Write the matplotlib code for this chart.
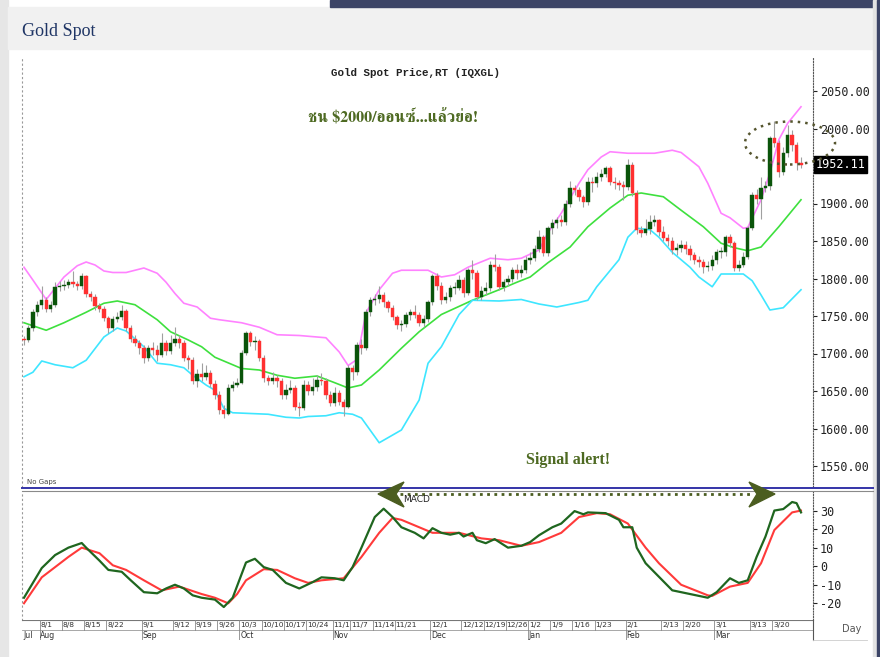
import matplotlib
matplotlib.use("Agg")
import matplotlib.pyplot as plt
from matplotlib.patches import Rectangle, Ellipse, Polygon
from matplotlib.lines import Line2D
from matplotlib import font_manager
from matplotlib.ft2font import FT2Font

# ---------------- data ----------------
opens = [1720, 1718, 1734, 1755, 1765, 1771, 1760, 1765, 1789, 1790, 1792, 1795, 1793, 1790, 1803, 1779,
         1776, 1763, 1760, 1747, 1734, 1746, 1749, 1757, 1734, 1720, 1714, 1707, 1694, 1707, 1705, 1698,
         1714, 1703, 1714, 1720, 1714, 1694, 1691, 1664, 1673, 1669, 1674, 1660, 1645, 1625, 1620, 1654,
         1658, 1661, 1701, 1727, 1715, 1717, 1694, 1667, 1664, 1668, 1664, 1645, 1651, 1654, 1629, 1628,
         1658, 1650, 1655, 1665, 1664, 1645, 1634, 1648, 1636, 1629, 1681, 1676, 1711, 1707, 1755, 1771,
         1773, 1778, 1769, 1761, 1749, 1738, 1740, 1751, 1755, 1752, 1741, 1746, 1769, 1803, 1790, 1771,
         1775, 1787, 1788, 1798, 1781, 1811, 1808, 1776, 1784, 1787, 1818, 1816, 1789, 1795, 1799, 1811,
         1807, 1812, 1825, 1827, 1840, 1855, 1834, 1867, 1874, 1878, 1876, 1900, 1921, 1918, 1909, 1902,
         1929, 1927, 1935, 1940, 1947, 1929, 1927, 1925, 1922, 1951, 1914, 1865, 1861, 1866, 1875, 1878,
         1862, 1854, 1850, 1838, 1841, 1845, 1840, 1831, 1825, 1822, 1815, 1817, 1825, 1835, 1835, 1855,
         1847, 1814, 1818, 1829, 1867, 1911, 1906, 1921, 1923, 1987, 1981, 1942, 1967, 1991, 1978, 1954]
closes = [1718, 1734, 1755, 1765, 1771, 1760, 1765, 1789, 1790, 1792, 1795, 1793, 1790, 1803, 1779, 1776,
          1763, 1760, 1747, 1734, 1746, 1749, 1757, 1734, 1720, 1714, 1707, 1694, 1707, 1705, 1698, 1714,
          1703, 1714, 1720, 1714, 1694, 1691, 1664, 1673, 1669, 1674, 1660, 1645, 1625, 1620, 1654, 1658,
          1661, 1701, 1727, 1715, 1717, 1694, 1667, 1664, 1668, 1664, 1645, 1651, 1654, 1629, 1628, 1658,
          1650, 1655, 1665, 1664, 1645, 1634, 1648, 1636, 1629, 1681, 1676, 1711, 1707, 1755, 1771, 1773,
          1778, 1769, 1761, 1749, 1738, 1740, 1751, 1755, 1752, 1741, 1746, 1769, 1803, 1790, 1771, 1775,
          1787, 1788, 1798, 1781, 1811, 1808, 1776, 1784, 1787, 1818, 1816, 1789, 1795, 1799, 1811, 1807,
          1812, 1825, 1827, 1840, 1855, 1834, 1867, 1874, 1878, 1876, 1900, 1921, 1918, 1909, 1902, 1929,
          1927, 1935, 1940, 1947, 1929, 1927, 1925, 1922, 1951, 1914, 1865, 1861, 1866, 1875, 1878, 1862,
          1854, 1850, 1838, 1841, 1845, 1840, 1831, 1825, 1822, 1815, 1817, 1825, 1835, 1835, 1855, 1847,
          1814, 1818, 1829, 1867, 1911, 1906, 1921, 1923, 1987, 1981, 1942, 1967, 1991, 1978, 1954, 1952]
highs = [1724, 1738, 1760, 1770, 1790, 1775, 1770, 1795, 1797, 1798, 1800, 1810, 1797, 1807, 1805, 1783,
         1780, 1768, 1763, 1750, 1750, 1755, 1765, 1760, 1738, 1725, 1718, 1712, 1712, 1715, 1712, 1728,
         1718, 1725, 1735, 1725, 1718, 1698, 1695, 1680, 1688, 1685, 1678, 1665, 1650, 1632, 1660, 1664,
         1667, 1705, 1730, 1730, 1724, 1720, 1698, 1672, 1676, 1672, 1668, 1660, 1665, 1658, 1635, 1665,
         1664, 1668, 1672, 1674, 1668, 1650, 1655, 1652, 1640, 1685, 1685, 1715, 1720, 1760, 1775, 1780,
         1790, 1782, 1772, 1765, 1752, 1745, 1755, 1760, 1765, 1756, 1752, 1772, 1806, 1808, 1795, 1782,
         1792, 1795, 1805, 1802, 1814, 1825, 1812, 1790, 1795, 1823, 1833, 1820, 1800, 1805, 1815, 1820,
         1818, 1830, 1835, 1845, 1865, 1858, 1870, 1880, 1882, 1885, 1905, 1930, 1925, 1922, 1912, 1935,
         1935, 1942, 1946, 1950, 1950, 1935, 1932, 1930, 1960, 1955, 1918, 1870, 1880, 1885, 1885, 1880,
         1870, 1860, 1855, 1848, 1852, 1850, 1845, 1835, 1830, 1826, 1824, 1832, 1840, 1842, 1858, 1860,
         1850, 1825, 1835, 1870, 1915, 1920, 1935, 1930, 1990, 2010, 1985, 1975, 2005, 1998, 1982, 1962]
lows = [1712, 1715, 1730, 1750, 1760, 1755, 1756, 1762, 1783, 1785, 1788, 1789, 1785, 1786, 1775, 1770,
        1758, 1755, 1743, 1728, 1730, 1742, 1745, 1730, 1715, 1710, 1700, 1688, 1690, 1698, 1690, 1695,
        1698, 1700, 1710, 1708, 1690, 1680, 1660, 1655, 1664, 1665, 1655, 1640, 1620, 1614, 1618, 1650,
        1655, 1660, 1698, 1710, 1705, 1690, 1662, 1658, 1660, 1655, 1640, 1640, 1648, 1625, 1617, 1625,
        1645, 1645, 1650, 1658, 1640, 1630, 1630, 1632, 1617, 1627, 1665, 1672, 1700, 1705, 1750, 1765,
        1768, 1762, 1755, 1745, 1733, 1730, 1735, 1745, 1748, 1737, 1735, 1742, 1765, 1785, 1766, 1767,
        1770, 1780, 1785, 1775, 1778, 1800, 1772, 1772, 1778, 1783, 1810, 1785, 1783, 1790, 1795, 1800,
        1802, 1808, 1820, 1823, 1835, 1830, 1830, 1860, 1868, 1870, 1872, 1896, 1912, 1904, 1895, 1898,
        1915, 1922, 1930, 1935, 1925, 1920, 1918, 1905, 1918, 1910, 1860, 1855, 1858, 1860, 1870, 1857,
        1850, 1844, 1833, 1832, 1836, 1833, 1825, 1820, 1815, 1808, 1810, 1812, 1820, 1828, 1830, 1842,
        1810, 1810, 1815, 1826, 1865, 1900, 1880, 1915, 1918, 1975, 1935, 1938, 1962, 1970, 1945, 1948]

upper_day = [0, 2, 5, 9, 12, 14, 16, 18, 20, 23, 27, 30, 32, 34, 36, 39, 42, 44, 49, 53, 57, 62, 68, 71,
             73, 75, 77, 80, 83, 85, 91, 94, 97, 100, 105, 109, 112, 116, 118, 121, 125, 127, 130, 132,
             136, 142, 146, 148, 152, 154, 157, 159, 162, 163, 166, 168, 170, 172, 175]
upper_band = [1815, 1798, 1772, 1802, 1817, 1822, 1818, 1810, 1808, 1808, 1814, 1807, 1795, 1780, 1767,
              1762, 1747, 1745, 1741, 1735, 1725, 1724, 1721, 1702, 1684, 1692, 1754, 1785, 1807, 1811,
              1811, 1802, 1805, 1815, 1827, 1825, 1827, 1838, 1861, 1887, 1927, 1945, 1962, 1969, 1967,
              1967, 1971, 1968, 1949, 1927, 1887, 1881, 1867, 1868, 1905, 1941, 1985, 2007, 2029]
middle_day = [0, 5, 9, 14, 18, 21, 25, 30, 33, 37, 40, 43, 49, 53, 57, 61, 66, 70, 73, 76, 80, 85, 89, 94,
              101, 107, 111, 114, 118, 123, 127, 132, 136, 139, 144, 148, 153, 157, 160, 163, 166, 170, 175]
middle_band = [1741, 1731, 1741, 1755, 1767, 1770, 1765, 1745, 1729, 1718, 1709, 1695, 1680, 1678, 1671,
               1667, 1670, 1661, 1654, 1658, 1678, 1707, 1729, 1752, 1771, 1785, 1795, 1802, 1821, 1842,
               1869, 1894, 1911, 1914, 1909, 1891, 1869, 1847, 1841, 1837, 1842, 1869, 1905]
lower_day = [0, 2, 4, 7, 11, 14, 18, 21, 23, 27, 30, 33, 36, 38, 41, 43, 45, 47, 55, 59, 62, 64, 68, 71,
             74, 76, 80, 85, 89, 91, 94, 98, 101, 107, 112, 116, 120, 125, 127, 129, 134, 136, 138, 141,
             143, 146, 150, 152, 155, 157, 162, 164, 166, 168, 171, 175]
lower_band = [1669, 1675, 1690, 1685, 1681, 1691, 1722, 1734, 1730, 1709, 1687, 1685, 1681, 1671, 1658,
              1651, 1627, 1621, 1619, 1615, 1614, 1616, 1617, 1621, 1619, 1614, 1581, 1598, 1638, 1687,
              1709, 1752, 1771, 1770, 1772, 1766, 1762, 1768, 1771, 1789, 1825, 1855, 1867, 1865, 1855,
              1835, 1815, 1802, 1789, 1806, 1806, 1797, 1778, 1758, 1761, 1785]

macd_day = [0, 2, 4, 7, 10, 13, 14, 17, 19, 22, 24, 27, 30, 32, 34, 36, 38, 40, 43, 45, 47, 50, 52, 54, 56,
            59, 62, 65, 67, 70, 72, 74, 76, 79, 81, 83, 85, 88, 90, 92, 94, 96, 98, 99, 101, 102, 104, 106,
            109, 112, 114, 116, 119, 121, 124, 126, 127, 131, 134, 135, 137, 138, 140, 143, 146, 150, 154,
            156, 159, 161, 163, 165, 167, 169, 171, 173, 174, 175]
macd_line = [-17, -9, -1, 6, 10, 12.5, 10, 3, -2, -3, -7.5, -14, -14.6, -12, -10, -12, -15.7, -17, -18, -22,
             -17, 2, 4, -0.5, -2, -9, -12, -8.6, -6, -6.5, -7.6, -0.5, 10, 26.5, 31, 26.5, 21, 18, 15, 20.5,
             18, 17, 18, 16, 18, 14, 12.4, 14.6, 10, 11, 13, 16.7, 21, 23, 29.7, 28, 29, 28.6, 25, 21, 21,
             10, 1.6, -5.7, -13, -15, -17, -14, -6.5, -9, -7.6, 5, 16, 30, 30.8, 34.6, 34, 29]
signal_day = [0, 4, 10, 13, 17, 20, 23, 27, 31, 35, 40, 43, 46, 48, 50, 54, 57, 61, 64, 67, 72, 76, 80, 83,
              85, 89, 92, 98, 103, 107, 112, 116, 121, 125, 129, 132, 136, 140, 143, 148, 154, 155, 159,
              163, 166, 169, 173, 175]
signal_line = [-20, -6, 5, 10, 7, 0.5, -2, -7.6, -13, -11, -15, -17, -20, -15, -7.6, -1.6, -2, -6.5, -9,
               -7.6, -6.5, 5, 18, 26, 25, 21, 18, 18, 15, 14, 11, 13, 18, 26.5, 28.6, 28, 23, 10, 1.6,
               -10, -15.7, -16, -11, -9, 1.6, 19.5, 29, 30]

price_ticks = [1550, 1600, 1650, 1700, 1750, 1800, 1850, 1900, 2000, 2050]
macd_ticks = [-20, -10, 0, 10, 20, 30]
day_tick_pos = [4, 9, 14, 19, 27, 34, 39, 44, 49, 54, 59, 64, 70, 74, 79, 84, 92, 99, 104, 109, 114, 119,
                124, 129, 136, 144, 149, 156, 164, 169]
day_tick_lbl = ["8/1", "8/8", "8/15", "8/22", "9/1", "9/12", "9/19", "9/26", "10/3", "10/10", "10/17",
                "10/24", "11/1", "11/7", "11/14", "11/21", "12/1", "12/12", "12/19", "12/26", "1/2", "1/9",
                "1/16", "1/23", "2/1", "2/13", "2/20", "3/1", "3/13", "3/20"]
month_pos = [-0.45, 4, 27, 49, 70, 92, 114, 136, 156]
month_lbl = ["Jul", "Aug", "Sep", "Oct", "Nov", "Dec", "Jan", "Feb", "Mar"]
last_price = 1952.11

# ---------------- helpers ----------------
W, H = 880, 657


def fx(px):
    return px / W


def fy(py):
    return 1 - py / H


def find_thai_font():
    best = None
    for f in font_manager.fontManager.ttflist:
        try:
            cm = FT2Font(f.fname).get_charmap()
        except Exception:
            continue
        if 0x0E0A in cm and 0x0E19 in cm and 0x0E2D in cm:
            score = 0
            if "erif" in f.name or "Looped" in f.name:
                score += 2
            if f.weight in ("bold", 700) or (isinstance(f.weight, int) and f.weight >= 600):
                score += 1
            if best is None or score > best[0]:
                best = (score, f.name)
    return best[1] if best else None


thai_font = find_thai_font()

fig = plt.figure(figsize=(8.8, 6.57), dpi=100)
fig.patch.set_facecolor("white")

# page frame
fig.add_artist(Rectangle((0, 0), fx(8), 1, transform=fig.transFigure, color="#e6e6e6", zorder=0))
fig.add_artist(Rectangle((fx(8), fy(49)), fx(866), fy(7) - fy(49), transform=fig.transFigure,
                         color="#f1f1f1", zorder=0))
fig.add_artist(Rectangle((fx(330), fy(7)), fx(550), 7 / H, transform=fig.transFigure,
                         color="#3c4466", zorder=0))
fig.add_artist(Rectangle((fx(873), 0), fx(4), 1, transform=fig.transFigure, color="#e3e3e3", zorder=0))
fig.add_artist(Rectangle((fx(877), 0), fx(3), 1, transform=fig.transFigure, color="#3c4466", zorder=0))
fig.text(fx(22), fy(31), "Gold Spot", family="Liberation Serif", fontsize=13, color="#1f3565",
         va="center", ha="left")

XMIN, XMAX = -0.45, 177.7
mono = ["DejaVu Sans Mono"]

# ---------------- price panel ----------------
ax = fig.add_axes([fx(22), fy(487), fx(813) - fx(22), fy(58) - fy(487)])
ax.set_xlim(XMIN, XMAX)
ax.set_ylim(1522, 2094)
ax.set_facecolor("none")

x_idx = list(range(len(closes)))
for i in x_idx:
    o, c, h, l = opens[i], closes[i], highs[i], lows[i]
    up = c >= o
    ax.vlines(i, l, h, color="#a0a0a0", lw=0.8, zorder=2)
    body = max(abs(c - o), 1.2)
    col = "#0a540a" if up else "#ff3030"
    ax.bar(i, body, bottom=min(o, c), width=0.76, color=col, edgecolor=col, lw=0.3, zorder=3)

ax.plot(upper_day, upper_band, color="#ff82ff", lw=1.2, zorder=1)
ax.plot(middle_day, middle_band, color="#3ee03e", lw=1.2, zorder=1)
ax.plot(lower_day, lower_band, color="#3ee6ff", lw=1.2, zorder=1)

ax.yaxis.tick_right()
ax.set_yticks(price_ticks)
ax.set_yticklabels([f"{v:.2f}" for v in price_ticks], family=mono, fontsize=8.5)
ax.tick_params(axis="y", length=3, width=0.8, pad=2, colors="#222222")
ax.set_xticks([])
for s in ("top", "bottom"):
    ax.spines[s].set_visible(False)
ax.spines["right"].set_linestyle((0, (1, 1.5)))
ax.spines["right"].set_color("#555555")
ax.spines["left"].set_linestyle((0, (1, 3)))
ax.spines["left"].set_color("#999999")

ax.text(XMAX + 0.6, last_price, f"{last_price:.2f}", family=mono, fontsize=8.5,
        color="white", va="center", ha="left", transform=ax.transData, clip_on=False,
        bbox=dict(boxstyle="square,pad=0.15", fc="black", ec="black"))

fig.text(fx(415), fy(73), "Gold Spot Price,RT (IQXGL)", family="Liberation Mono", fontweight="bold",
         fontsize=7.8, ha="center", va="center", color="#222222")
thai_fam = [thai_font, "DejaVu Sans"] if thai_font else ["DejaVu Sans"]
fig.text(fx(393), fy(117), "ชน $2000/ออนซ์...แล้วย่อ!", family=thai_fam, fontweight="bold",
         fontsize=11.5, ha="center", va="center", color="#4e6a22")
fig.text(fx(568), fy(460), "Signal alert!", family="Liberation Serif", fontweight="bold",
         fontsize=11.5, ha="center", va="center", color="#4e6a22")
fig.text(fx(27), fy(482), "No Gaps", fontsize=5, color="#444444", ha="left", va="center")

fig.add_artist(Ellipse((fx(790), fy(143)), 90 / W, 43 / H, transform=fig.transFigure, fill=False,
                       ls=(0, (1, 2)), lw=1.8, ec="#55552e", zorder=10))

# separator lines
fig.add_artist(Line2D([fx(22), fx(873)], [fy(487.5), fy(487.5)], transform=fig.transFigure,
                      color="#3434a8", lw=1.4))
fig.add_artist(Line2D([fx(22), fx(873)], [fy(490.5), fy(490.5)], transform=fig.transFigure,
                      color="#8a8a8a", lw=0.8))

# ---------------- MACD panel ----------------
ax2 = fig.add_axes([fx(22), fy(620), fx(813) - fx(22), fy(492) - fy(620)])
ax2.set_xlim(XMIN, XMAX)
ax2.set_ylim(-29, 40)
ax2.set_facecolor("none")
ax2.plot(signal_day, signal_line, color="#ff3a3a", lw=1.5, zorder=2)
ax2.plot(macd_day, macd_line, color="#1f661f", lw=1.6, zorder=3)
ax2.yaxis.tick_right()
ax2.set_yticks(macd_ticks)
ax2.set_yticklabels([str(v) for v in macd_ticks], family=mono, fontsize=8.5)
ax2.tick_params(axis="y", length=3, width=0.8, pad=2, colors="#222222")
ax2.set_xticks([])
for s in ("top", "bottom"):
    ax2.spines[s].set_visible(False)
ax2.spines["right"].set_linestyle((0, (1, 1.5)))
ax2.spines["right"].set_color("#555555")
ax2.spines["left"].set_linestyle((0, (1, 3)))
ax2.spines["left"].set_color("#999999")

# double arrow "Signal alert"
acol = "#4b5d20"
fig.add_artist(Line2D([fx(400), fx(752)], [fy(494), fy(494)], transform=fig.transFigure,
                      color=acol, lw=2.0, ls=(0, (1, 1.6)), zorder=11))
fig.add_artist(Polygon([(fx(378), fy(494)), (fx(404), fy(482)), (fx(396), fy(494)), (fx(404), fy(507))],
                       closed=True, transform=fig.transFigure, color=acol, zorder=11))
fig.add_artist(Polygon([(fx(775), fy(494)), (fx(749), fy(482)), (fx(757), fy(494)), (fx(749), fy(507))],
                       closed=True, transform=fig.transFigure, color=acol, zorder=11))
fig.text(fx(403), fy(500), "MACD", fontsize=6.5, color="#222222", ha="left", va="center", zorder=12)

# ---------------- date axis ----------------
ax3 = fig.add_axes([fx(22), fy(640), fx(813) - fx(22), fy(620) - fy(640)])
ax3.set_xlim(XMIN, XMAX)
ax3.set_ylim(0, 2)
ax3.axis("off")
narrow = ["Liberation Sans Narrow", "DejaVu Sans"]
ax3.axhline(2, color="#777777", lw=0.8)
ax3.axhline(1, color="#999999", lw=0.6)
ax3.axhline(0, color="#bbbbbb", lw=0.6)
for p, t in zip(day_tick_pos, day_tick_lbl):
    ax3.plot([p - 0.5, p - 0.5], [1, 2], color="#888888", lw=0.6)
    ax3.text(p - 0.3, 1.45, t, family=narrow, fontsize=5.4, color="#333333", ha="left", va="center")
for p, t in zip(month_pos, month_lbl):
    if p > 0:
        ax3.plot([p - 0.5, p - 0.5], [0, 1], color="#888888", lw=0.6)
    ax3.text(p + 0.3 if p < 0 else p - 0.3, 0.45, t, family=narrow, fontsize=5.6, color="#333333",
             ha="left", va="center")
fig.add_artist(Line2D([fx(813), fx(813)], [fy(640), fy(620)], transform=fig.transFigure,
                      color="#555555", lw=0.8))
fig.add_artist(Line2D([fx(813), fx(867)], [fy(640), fy(640)], transform=fig.transFigure,
                      color="#cccccc", lw=0.6))
fig.text(fx(852), fy(629), "Day", family=narrow, fontsize=7, color="#555555", ha="center", va="center")

fig.savefig("out.png", dpi=100)
